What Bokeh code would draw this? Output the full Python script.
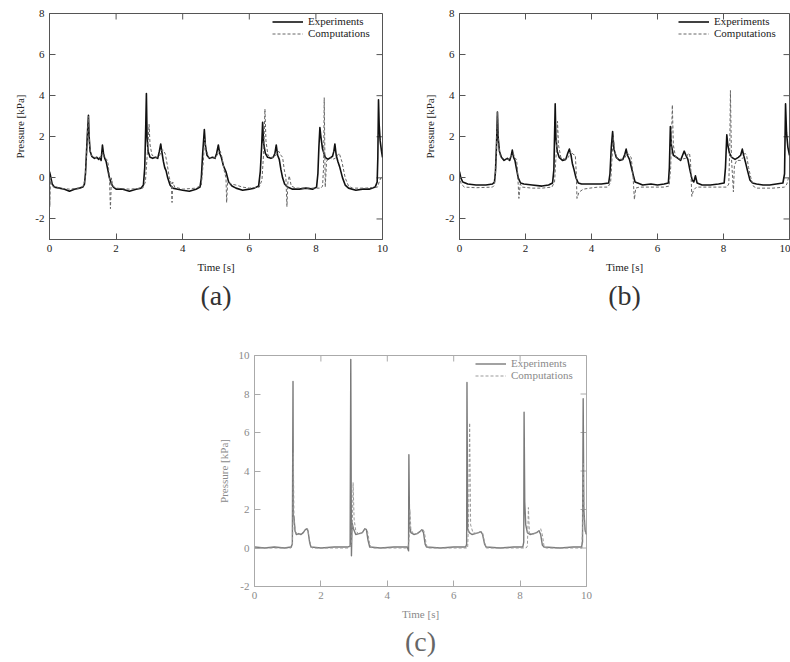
from bokeh.plotting import figure
from bokeh.models import LinearAxis, Range1d, Legend, LegendItem, Spacer, FixedTicker, Title
from bokeh.layouts import column, row
from bokeh.embed import file_html
from bokeh.resources import INLINE

SERIF = "Liberation Serif"

# ---------------- data ----------------
x_ticks = [0, 2, 4, 6, 8, 10]
y_ticks_ab = [-2, 0, 2, 4, 6, 8]
y_ticks_c = [-2, 0, 2, 4, 6, 8, 10]
legend_labels = ["Experiments", "Computations"]
tags = ["(a)", "(b)", "(c)"]

a_exp_t = [0.00, 0.03, 0.08, 0.15, 0.30, 0.45, 0.60, 0.75, 0.90, 1.00, 1.05, 1.08, 1.11, 1.14, 1.17, 1.19, 1.22, 1.27,
           1.35, 1.42, 1.48, 1.52, 1.55, 1.59, 1.62, 1.66, 1.70, 1.75, 1.80, 1.86, 1.92, 2.00, 2.20, 2.40, 2.60, 2.75,
           2.82, 2.86, 2.89, 2.91, 2.93, 2.96, 3.02, 3.10, 3.18, 3.25, 3.30, 3.34, 3.38, 3.42, 3.46, 3.50, 3.55, 3.62,
           3.70, 3.85, 4.00, 4.20, 4.40, 4.52, 4.56, 4.60, 4.65, 4.68, 4.73, 4.80, 4.90, 4.97, 5.02, 5.07, 5.11, 5.16,
           5.22, 5.30, 5.38, 5.48, 5.60, 5.80, 6.00, 6.15, 6.28, 6.33, 6.37, 6.40, 6.43, 6.48, 6.55, 6.65, 6.72, 6.77,
           6.81, 6.85, 6.90, 6.95, 7.00, 7.06, 7.15, 7.30, 7.50, 7.70, 7.90, 8.02, 8.06, 8.09, 8.12, 8.15, 8.20, 8.28,
           8.36, 8.45, 8.50, 8.54, 8.57, 8.61, 8.66, 8.72, 8.80, 8.88, 8.98, 9.20, 9.40, 9.60, 9.78, 9.84, 9.86, 9.88,
           9.90, 9.93, 9.97, 10.00]
a_exp_p = [0.30, 0.10, -0.30, -0.45, -0.50, -0.55, -0.65, -0.55, -0.50, -0.45, -0.30, 0.20, 1.20, 2.20, 3.05, 2.00,
           1.30, 1.05, 0.95, 1.00, 0.90, 1.00, 0.85, 1.60, 1.20, 0.95, 0.80, 0.40, 0.00, -0.30, -0.45, -0.55, -0.55,
           -0.65, -0.55, -0.50, -0.35, 0.50, 2.50, 4.10, 2.00, 1.30, 1.00, 0.95, 1.00, 0.95, 1.30, 1.65, 1.20, 0.80,
           0.50, 0.35, 0.00, -0.35, -0.50, -0.55, -0.60, -0.65, -0.55, -0.45, 0.00, 1.20, 2.35, 1.60, 1.10, 0.95, 1.00,
           0.95, 1.20, 1.60, 1.20, 1.00, 0.60, 0.30, -0.20, -0.40, -0.50, -0.60, -0.55, -0.50, -0.40, 0.30, 1.50, 2.70,
           1.70, 1.20, 1.00, 0.95, 1.00, 1.20, 1.60, 1.10, 0.90, 0.40, 0.00, -0.30, -0.45, -0.55, -0.55, -0.50, -0.55,
           -0.45, 0.20, 1.50, 2.45, 2.00, 1.40, 1.00, 0.90, 1.00, 1.05, 1.30, 1.65, 1.10, 0.80, 0.50, 0.00, -0.35, -0.50,
           -0.60, -0.55, -0.55, -0.45, -0.20, 1.00, 3.80, 2.60, 1.80, 1.30, 1.00]

a_comp_t = [0.00, 0.01, 0.03, 0.06, 0.12, 0.30, 0.60, 0.90, 1.02, 1.07, 1.11, 1.15, 1.17, 1.20, 1.25, 1.35, 1.45, 1.55,
            1.60, 1.65, 1.72, 1.76, 1.80, 1.83, 1.86, 1.90, 2.00, 2.40, 2.80, 2.88, 2.93, 2.97, 2.99, 3.02, 3.08, 3.20,
            3.30, 3.36, 3.42, 3.48, 3.54, 3.60, 3.66, 3.68, 3.70, 3.76, 4.00, 4.40, 4.56, 4.62, 4.66, 4.70, 4.78, 4.90,
            5.00, 5.08, 5.13, 5.18, 5.24, 5.30, 5.32, 5.35, 5.45, 5.60, 5.80, 6.00, 6.30, 6.38, 6.43, 6.47, 6.50, 6.56,
            6.65, 6.75, 6.82, 6.88, 6.95, 7.00, 7.05, 7.10, 7.13, 7.16, 7.20, 7.26, 7.40, 7.80, 8.15, 8.20, 8.23, 8.25,
            8.28, 8.32, 8.40, 8.50, 8.58, 8.65, 8.70, 8.78, 8.88, 8.98, 9.10, 9.50, 9.85, 9.90, 9.95, 10.00]
a_comp_p = [0.20, -1.40, 0.00, -0.30, -0.45, -0.50, -0.55, -0.50, -0.40, 0.00, 1.00, 2.50, 3.00, 1.60, 1.10, 1.00,
            0.95, 1.00, 1.25, 0.95, 0.90, 0.70, 0.00, -1.50, 0.00, -0.40, -0.50, -0.55, -0.50, -0.20, 1.00, 2.00,
            2.60, 1.60, 1.10, 1.00, 1.05, 1.35, 1.35, 1.15, 0.60, 0.00, -0.30, -1.20, -0.20, -0.45, -0.55, -0.50,
            -0.35, 0.80, 1.90, 1.40, 1.00, 0.95, 1.00, 1.25, 1.30, 1.00, 0.40, 0.00, -1.20, -0.20, -0.30, -0.35,
            -0.45, -0.50, -0.45, -0.10, 1.20, 3.35, 1.80, 1.10, 1.00, 1.00, 1.15, 1.30, 1.10, 1.00, 0.40, 0.00, -1.40,
            -0.20, 0.10, -0.40, -0.50, -0.50, -0.50, -0.40, 0.50, 3.90, -0.45, 0.80, 1.00, 0.90, 0.95, 1.10, 1.20, 0.80,
            0.00, -0.40, -0.50, -0.50, -0.45, -0.20, 0.00, 0.05]

b_exp_t = [0.00, 0.04, 0.10, 0.25, 0.50, 0.80, 1.00, 1.06, 1.09, 1.12, 1.15, 1.17, 1.21, 1.27, 1.35, 1.45, 1.52, 1.57,
           1.60, 1.64, 1.68, 1.72, 1.78, 1.85, 1.95, 2.20, 2.50, 2.70, 2.82, 2.86, 2.90, 2.92, 2.96, 3.02, 3.12, 3.22,
           3.28, 3.33, 3.38, 3.42, 3.47, 3.53, 3.60, 3.70, 4.00, 4.30, 4.52, 4.56, 4.60, 4.64, 4.68, 4.75, 4.85, 4.95,
           5.01, 5.05, 5.09, 5.15, 5.21, 5.27, 5.32, 5.40, 5.55, 5.80, 6.00, 6.20, 6.33, 6.36, 6.39, 6.42, 6.48, 6.58,
           6.70, 6.76, 6.81, 6.86, 6.92, 6.98, 7.05, 7.10, 7.15, 7.20, 7.35, 7.60, 7.85, 8.02, 8.06, 8.10, 8.13, 8.18,
           8.25, 8.35, 8.45, 8.52, 8.57, 8.61, 8.66, 8.72, 8.80, 8.88, 9.00, 9.20, 9.40, 9.60, 9.80, 9.85, 9.88, 9.91,
           9.95, 10.00]
b_exp_p = [0.30, 0.00, -0.20, -0.30, -0.35, -0.35, -0.30, -0.20, 0.30, 1.50, 3.20, 2.00, 1.30, 1.00, 0.85, 0.95, 0.85,
           1.10, 1.35, 1.00, 0.85, 0.50, 0.00, -0.25, -0.30, -0.35, -0.40, -0.35, -0.25, 0.40, 3.60, 2.00, 1.30, 1.00,
           0.85, 0.90, 1.20, 1.40, 1.10, 0.70, 0.40, 0.00, -0.25, -0.30, -0.30, -0.30, -0.25, 0.20, 1.50, 2.25, 1.40,
           1.00, 0.85, 0.90, 1.15, 1.40, 1.10, 0.90, 0.50, 0.10, -0.20, -0.25, -0.35, -0.30, -0.35, -0.30, -0.25, 0.50,
           2.50, 1.60, 1.10, 1.00, 0.85, 1.10, 1.30, 1.10, 0.90, 0.40, -0.10, -0.20, 0.10, -0.25, -0.35, -0.35, -0.30,
           -0.25, 0.50, 2.10, 1.60, 1.20, 1.00, 0.90, 1.00, 1.10, 1.40, 1.10, 0.80, 0.40, -0.10, -0.25, -0.30, -0.35,
           -0.35, -0.30, -0.25, 0.20, 3.60, 2.20, 1.50, 1.10]

b_comp_t = [0.00, 0.05, 0.15, 0.50, 1.00, 1.06, 1.10, 1.13, 1.15, 1.18, 1.23, 1.35, 1.50, 1.58, 1.63, 1.68, 1.73, 1.76,
            1.80, 1.84, 1.90, 2.20, 2.50, 2.80, 2.88, 2.93, 2.97, 3.00, 3.07, 3.20, 3.30, 3.37, 3.44, 3.51, 3.54, 3.56,
            3.62, 3.75, 3.95, 4.20, 4.50, 4.58, 4.63, 4.66, 4.70, 4.78, 4.90, 5.00, 5.08, 5.13, 5.20, 5.25, 5.30, 5.34,
            5.45, 5.80, 6.20, 6.35, 6.40, 6.45, 6.48, 6.55, 6.70, 6.85, 6.92, 6.97, 7.00, 7.04, 7.09, 7.18, 7.50, 7.90,
            8.10, 8.16, 8.19, 8.21, 8.24, 8.28, 8.30, 8.33, 8.40, 8.52, 8.60, 8.65, 8.70, 8.76, 8.83, 8.90, 9.00, 9.50,
            9.85, 9.92, 9.97, 10.00]
b_comp_p = [0.10, -0.30, -0.45, -0.48, -0.45, -0.35, 0.50, 2.00, 3.25, 1.80, 1.10, 0.90, 0.90, 1.10, 1.20, 0.95, 0.90,
            0.30, -1.00, -0.30, -0.45, -0.50, -0.50, -0.45, -0.20, 1.20, 2.75, 1.60, 1.00, 0.90, 1.00, 1.30, 1.15,
            1.10, 0.20, -1.00, -0.70, -0.55, -0.50, -0.45, -0.45, -0.20, 1.20, 2.00, 1.30, 0.95, 0.90, 0.95, 1.20,
            1.15, 1.00, 0.30, -1.05, -0.50, -0.45, -0.45, -0.45, -0.40, 0.50, 3.55, 1.60, 1.00, 0.90, 0.95, 1.15, 1.20,
            0.80, -0.90, -0.60, -0.45, -0.45, -0.45, -0.45, -0.30, 1.50, 4.25, 1.00, -0.10, -0.68, 0.60, 0.85, 0.85,
            1.00, 1.20, 1.10, 0.50, 0.00, -0.40, -0.50, -0.50, -0.45, -0.30, 0.00, 0.05]

c_exp_t = [0.00, 0.30, 0.60, 0.90, 1.10, 1.14, 1.16, 1.17, 1.19, 1.22, 1.26, 1.33, 1.40, 1.47, 1.53, 1.57, 1.61, 1.66,
           1.70, 2.00, 2.40, 2.80, 2.88, 2.90, 2.92, 2.94, 2.98, 3.05, 3.15, 3.25, 3.32, 3.37, 3.42, 3.47, 3.80, 4.20,
           4.60, 4.64, 4.65, 4.67, 4.71, 4.80, 4.90, 4.98, 5.04, 5.09, 5.14, 5.18, 5.60, 6.00, 6.36, 6.39, 6.40, 6.42,
           6.47, 6.55, 6.65, 6.75, 6.82, 6.87, 6.93, 6.98, 7.40, 7.80, 8.08, 8.11, 8.12, 8.14, 8.17, 8.22, 8.30, 8.40,
           8.50, 8.57, 8.62, 8.67, 8.72, 9.20, 9.60, 9.85, 9.88, 9.90, 9.92, 9.96, 10.00]
c_exp_p = [0.05, 0.00, 0.05, 0.00, 0.05, 0.20, 8.65, 1.70, 1.60, 0.90, 0.70, 0.75, 0.70, 0.80, 0.95, 1.00, 0.90, 0.30,
           0.05, 0.00, 0.05, 0.05, 0.10, 9.80, -0.40, 1.30, 1.00, 0.70, 0.75, 0.80, 1.00, 0.95, 0.40, 0.05, 0.00, 0.05,
           0.05, -0.15, 4.85, 1.20, 0.80, 0.70, 0.75, 0.85, 0.95, 0.80, 0.20, 0.05, 0.00, 0.05, 0.05, 0.20, 8.60, 1.00,
           0.80, 0.70, 0.75, 0.80, 0.85, 0.70, 0.20, 0.05, 0.00, 0.05, 0.05, 0.30, 7.05, 2.40, 1.20, 0.80, 0.70, 0.75,
           0.80, 0.90, 0.70, 0.15, 0.05, 0.00, 0.05, 0.05, 0.30, 7.75, 2.00, 0.90, 0.70]

c_comp_t = [0.00, 1.10, 1.14, 1.16, 1.17, 1.19, 1.23, 1.30, 1.40, 1.48, 1.55, 1.60, 1.65, 1.70, 1.75, 2.85, 2.92, 2.95,
            2.97, 3.00, 3.05, 3.15, 3.25, 3.35, 3.40, 3.46, 3.52, 4.62, 4.66, 4.68, 4.71, 4.78, 4.90, 5.00, 5.07, 5.12,
            5.17, 5.22, 6.42, 6.45, 6.48, 6.51, 6.58, 6.70, 6.80, 6.87, 6.93, 6.98, 8.18, 8.22, 8.25, 8.28, 8.35, 8.45,
            8.55, 8.62, 8.67, 8.72, 8.77, 9.86, 9.88, 9.90, 9.93, 9.97, 10.00]
c_comp_p = [0.00, 0.00, 0.10, 1.50, 4.95, 1.50, 0.85, 0.70, 0.75, 0.85, 1.00, 1.00, 0.50, 0.05, 0.00, 0.00, 0.20, 1.50,
            3.40, 1.50, 0.90, 0.70, 0.80, 1.00, 0.90, 0.30, 0.00, 0.00, 0.50, 2.00, 1.00, 0.75, 0.75, 0.85, 1.00, 0.80,
            0.20, 0.00, 0.00, 1.50, 6.50, 1.20, 0.80, 0.75, 0.85, 0.80, 0.30, 0.00, 0.00, 0.10, 2.10, 0.80, 0.70, 0.75,
            0.85, 1.00, 0.70, 0.10, 0.00, 0.00, 1.00, 4.40, 1.20, 0.80, 0.70]


def style_axis(ax, ticks, axis_col, text_col, label):
    ax.ticker = FixedTicker(ticks=ticks)
    ax.major_label_overrides = {t: str(t) for t in ticks}
    ax.axis_line_color = axis_col
    ax.major_tick_line_color = axis_col
    ax.major_tick_in = 6
    ax.major_tick_out = 0
    ax.minor_tick_line_color = None
    ax.major_label_text_font = SERIF
    ax.major_label_text_font_size = "11px"
    ax.major_label_text_color = text_col
    ax.major_label_standoff = 5
    ax.axis_label = label
    ax.axis_label_text_font = SERIF
    ax.axis_label_text_font_size = "11px"
    ax.axis_label_text_font_style = "normal"
    ax.axis_label_text_color = text_col
    ax.axis_label_standoff = 6


def make_panel(w, h, bl, br, bt, bb, y0, y1, yticks, et, ep, ct, cp, tag, tag_off, tag_standoff, leg_xy,
               exp_col, exp_w, comp_col, axis_col, text_col, tag_col):
    p = figure(width=w, height=h, output_backend="svg", toolbar_location=None,
               x_range=Range1d(0, 10), y_range=Range1d(y0, y1),
               x_axis_location=None, y_axis_location=None,
               min_border_left=bl, min_border_right=br, min_border_top=bt, min_border_bottom=bb)
    p.grid.visible = False
    p.outline_line_color = axis_col
    p.background_fill_color = None
    p.border_fill_color = None

    bx = LinearAxis()
    style_axis(bx, x_ticks, axis_col, text_col, "Time [s]")
    p.add_layout(bx, "below")
    ly = LinearAxis()
    style_axis(ly, yticks, axis_col, text_col, "Pressure [kPa]")
    p.add_layout(ly, "left")

    # mirrored inward tick marks on the top and right edges (6 px long)
    fw = w - bl - br
    fh = h - bt - bb
    dx = 6 * 10.0 / fw
    dy = 6 * (y1 - y0) / fh
    p.segment(x0=x_ticks, y0=[y1] * len(x_ticks), x1=x_ticks, y1=[y1 - dy] * len(x_ticks),
              line_color=axis_col, line_width=1)
    p.segment(x0=[10] * len(yticks), y0=yticks, x1=[10 - dx] * len(yticks), y1=yticks,
              line_color=axis_col, line_width=1)

    r_exp = p.line(et, ep, line_color=exp_col, line_width=exp_w, line_join="round")
    r_comp = p.line(ct, cp, line_color=comp_col, line_width=1, line_dash="3 2")

    leg = Legend(items=[LegendItem(label=legend_labels[0], renderers=[r_exp]),
                        LegendItem(label=legend_labels[1], renderers=[r_comp])],
                 location=leg_xy, border_line_color=None, background_fill_alpha=0,
                 label_text_font=SERIF, label_text_font_size="11px", label_text_color=text_col,
                 label_height=11, glyph_height=11, glyph_width=31, spacing=0, padding=0,
                 margin=0, label_standoff=5)
    p.add_layout(leg)

    p.add_layout(Title(text=tag, align="center", offset=tag_off, standoff=tag_standoff,
                       text_font=SERIF, text_font_size="28px", text_font_style="normal",
                       text_color=tag_col), "below")
    return p


pa = make_panel(395, 330, 49, 13, 13, 91, -3, 8, y_ticks_ab, a_exp_t, a_exp_p, a_comp_t, a_comp_p,
                tags[0], -10, 4, (223, 200), "#111111", 1.6, "#666666", "#555555", "#222222", "#333333")
pb = make_panel(395, 330, 64, 1, 13, 91, -3, 8, y_ticks_ab, b_exp_t, b_exp_p, b_comp_t, b_comp_p,
                tags[1], 0, 4, (219, 200), "#111111", 1.6, "#666666", "#555555", "#222222", "#333333")
pc = make_panel(400, 332, 54, 14, 25, 76, -2, 10, y_ticks_c, c_exp_t, c_exp_p, c_comp_t, c_comp_p,
                tags[2], -2, 2, (221, 205), "#7a7a7a", 1.4, "#999999", "#aaaaaa", "#8a8a8a", "#666666")

layout = column(row(pa, pb), row(Spacer(width=200, height=332), pc))

open("out.html", "w").write(file_html(layout, INLINE))
